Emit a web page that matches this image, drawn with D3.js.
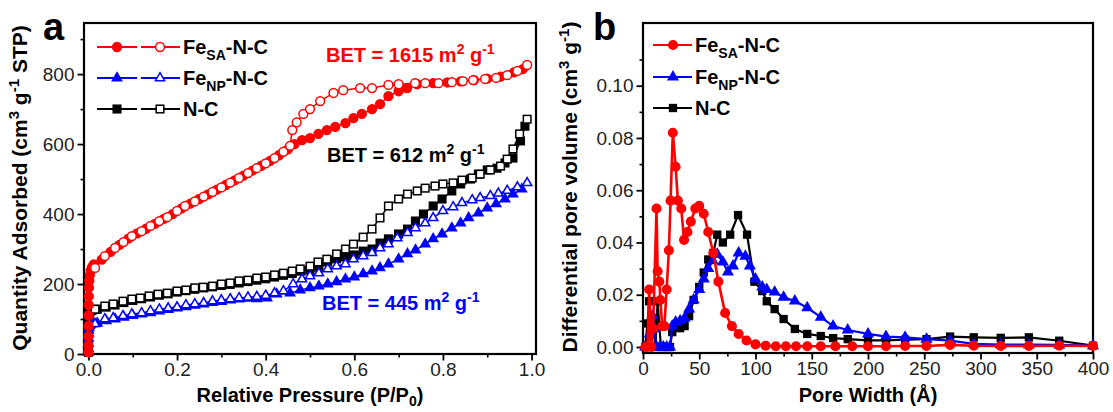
<!DOCTYPE html>
<html><head><meta charset="utf-8">
<script src="https://cdnjs.cloudflare.com/ajax/libs/d3/7.8.5/d3.min.js"></script>
<style>body{margin:0;background:#fff;} text{font-family:Arial,"Liberation Sans",sans-serif;}</style>
</head><body>
<script>
// ---------- Panel a data: N2 isotherms ----------
const lowP = [0.00002,0.00005,0.0001,0.0002,0.0003,0.0005,0.0008,0.0012,0.002,0.003,0.005,0.008,0.012];
const saAdsP = lowP.concat([0.03,0.05,0.07,0.09,0.11,0.13,0.15,0.17,0.19,0.21,0.23,0.25,0.27,0.29,0.31,0.33,0.35,0.37,0.39,0.41,0.43,0.45,0.465,0.482,0.50,0.519,0.538,0.557,0.58,0.598,0.617,0.64,0.658,0.677,0.70,0.719,0.742,0.778,0.81,0.84,0.87,0.90,0.93,0.96,0.98]);
const saAdsV = [5,25,50,80,110,140,165,190,210,225,238,248,256,270,292,312,330,345,358,372,386,400,416,430,443,456,470,483,496,510,524,538,552,568,585,600,611,617,629,640,649,660,674,686,700,714,737,751,760,771,774,776,779,783,787,793,805,814];
const saDesP = [0.015,0.037,0.06,0.079,0.098,0.12,0.14,0.16,0.178,0.2,0.218,0.24,0.26,0.28,0.3,0.32,0.34,0.36,0.38,0.40,0.42,0.44,0.455,0.46,0.47,0.485,0.50,0.523,0.553,0.575,0.613,0.64,0.677,0.70,0.737,0.76,0.79,0.82,0.845,0.868,0.895,0.92,0.945,0.968,0.99];
const saDesV = [246,280,303,320,337,351,366,380,391,409,423,436,450,463,476,490,503,517,531,545,560,578,595,640,662,686,700,723,746,754,760,760,769,771,774,774,774,777,780,783,786,789,797,809,826];

const npAdsP = lowP.concat([0.02,0.04,0.06,0.08,0.10,0.12,0.14,0.16,0.18,0.20,0.22,0.24,0.26,0.28,0.30,0.32,0.34,0.36,0.38,0.403,0.425,0.455,0.478,0.50,0.52,0.54,0.56,0.58,0.60,0.62,0.64,0.658,0.677,0.70,0.72,0.738,0.76,0.778,0.798,0.82,0.84,0.858,0.88,0.90,0.92,0.94,0.958,0.978]);
const npAdsV = [5,15,30,45,58,68,74,78,81,83,85,86,87,88,95,100,105,110,114,118,123,127,131,135,139,143,147,150,154,157,159,158,160,171,174,183,189,194,200,206,214,220,229,237,246,257,271,286,297,314,329,343,360,374,389,403,417,429,443,457,471];
const npDesP = [0.015,0.037,0.056,0.078,0.098,0.12,0.14,0.16,0.18,0.2,0.22,0.24,0.26,0.28,0.30,0.32,0.34,0.36,0.38,0.40,0.42,0.44,0.462,0.482,0.50,0.52,0.54,0.56,0.58,0.598,0.62,0.64,0.658,0.677,0.697,0.72,0.738,0.76,0.778,0.80,0.823,0.843,0.866,0.884,0.907,0.925,0.945,0.968,0.99];
const npDesV = [86,100,103,109,114,117,123,128,131,134,140,143,146,151,154,157,160,162,164,167,174,180,200,214,223,231,243,251,257,271,280,289,303,314,331,346,360,374,389,409,420,432,440,446,452,459,467,477,489];

const ncAdsP = lowP.concat([0.02,0.04,0.06,0.08,0.10,0.12,0.14,0.16,0.18,0.20,0.22,0.24,0.26,0.28,0.30,0.32,0.34,0.36,0.38,0.40,0.42,0.44,0.46,0.48,0.50,0.52,0.54,0.56,0.58,0.60,0.62,0.64,0.658,0.677,0.70,0.72,0.738,0.756,0.778,0.798,0.82,0.84,0.862,0.88,0.90,0.922,0.94,0.958,0.975,0.985]);
const ncAdsV = [5,20,40,60,80,95,105,112,117,120,123,125,127,128,134,140,147,153,158,163,168,172,177,181,185,189,192,196,199,203,207,211,215,220,225,230,237,240,248,263,272,277,283,294,300,317,329,343,357,380,400,423,443,466,486,500,514,526,531,546,560,609,651];
const ncDesP = [0.015,0.037,0.056,0.078,0.098,0.117,0.137,0.157,0.178,0.2,0.22,0.24,0.259,0.28,0.3,0.32,0.34,0.36,0.38,0.40,0.42,0.44,0.46,0.478,0.5,0.518,0.538,0.56,0.58,0.598,0.62,0.64,0.658,0.677,0.70,0.72,0.742,0.76,0.782,0.80,0.823,0.843,0.866,0.884,0.907,0.93,0.945,0.958,0.973,0.99];
const ncDesV = [128,137,143,151,157,160,166,171,174,180,183,189,191,194,200,203,209,211,217,220,226,231,237,243,251,263,271,286,300,314,334,357,389,423,443,457,466,474,480,486,489,497,503,514,526,537,557,586,629,671];

const aXTicks = [0,0.2,0.4,0.6,0.8,1.0];
const aYTicks = [0,200,400,600,800];

// ---------- Panel b data: pore size distribution ----------
const saW = [2,4,5.5,7.5,9,12,13,14.5,15.5,17,19,21,23,24.5,26.5,29,31,34,36.5,39.5,42.5,46.5,50,54,58,62.5,67,73,79,85,92,100,109,118,127,136,146,158,171,186,200,216,233,252,273,294,318,343,370,400];
const saPV = [0,0,0.022,0,0.007,0.053,0.029,0.025,0.018,0.008,0.008,0.022,0.037,0.056,0.082,0.069,0.056,0.053,0.041,0.044,0.048,0.053,0.054,0.051,0.044,0.036,0.025,0.013,0.008,0.005,0.0025,0.001,0.0005,0.0003,0.0003,0.0003,0.0003,0.0003,0.0003,0.0003,0.0003,0.0003,0.0004,0.0004,0.0008,0.0005,0.0004,0.0004,0.0005,0.0004];
const npW = [2,4,6,8.5,10,12,15,18,21,24,26,29,33,37,41,45,50,54,58,62,66,71,75.5,80,85,91,95,100,106,110,117,125,135,146,158,169,182,200,216,233,252,273,294,318,343,370,400];
const npPV = [0,0,0.005,0.012,0.007,0,0,0,0,0,0.008,0.0095,0.01,0.011,0.0145,0.018,0.022,0.026,0.030,0.033,0.0355,0.0325,0.0287,0.031,0.036,0.0347,0.031,0.026,0.023,0.022,0.021,0.019,0.0176,0.015,0.0114,0.008,0.0065,0.005,0.004,0.0037,0.003,0.0024,0.0012,0.0009,0.0009,0.0008,0.0005];
const ncW = [2,4,5.5,7,9,11,13,14.5,16,19,22,24,26,29,33,37,41,45,50,54,58,62.5,66,71,77.5,84.5,92.5,99,106,110,117,125,135,146,158,169,182,200,216,233,252,273,294,318,343,370,400];
const ncPV = [0,0.009,0.0175,0.005,0.010,0,0.0175,0.008,0,0,0,0,0.0057,0.0076,0.0072,0.008,0.0118,0.018,0.023,0.0285,0.0335,0.036,0.043,0.040,0.043,0.0505,0.043,0.025,0.0214,0.0175,0.0145,0.0107,0.0069,0.005,0.0042,0.0034,0.003,0.0025,0.0025,0.0028,0.003,0.004,0.0037,0.0035,0.0037,0.0024,0.0005];

const bXTicks = [0,50,100,150,200,250,300,350,400];
const bYTicks = [0,0.02,0.04,0.06,0.08,0.10];

const RED = "#ff0000", BLUE = "#0000ff", BLACK = "#000000";
const TICK_FS = 19, LEG_FS = 20, TITLE_FS = 20;

const svg = d3.select("body").append("svg").attr("width",1113).attr("height",412);

function zip(xs, ys){ return xs.map((x,i)=>({x:x, y:ys[i]})); }

function drawAxes(g, x, y, xMajor, xMinor, yMajor, yMinor, xFmt, yFmt){
  const [x0,x1] = x.range(), [y0,y1] = y.range();
  g.append("g").attr("transform",`translate(0,${y0})`)
    .call(d3.axisBottom(x).tickValues(xMinor).tickSize(3.5).tickFormat("").tickSizeOuter(0))
    .call(s=>s.select(".domain").remove()).selectAll("line").attr("stroke-width",1.6);
  g.append("g").attr("transform",`translate(${x0},0)`)
    .call(d3.axisLeft(y).tickValues(yMinor).tickSize(3.5).tickFormat("").tickSizeOuter(0))
    .call(s=>s.select(".domain").remove()).selectAll("line").attr("stroke-width",1.6);
  const xa = g.append("g").attr("transform",`translate(0,${y0})`)
    .call(d3.axisBottom(x).tickValues(xMajor).tickSize(6.5).tickPadding(2).tickFormat(xFmt).tickSizeOuter(0));
  xa.select(".domain").remove();
  xa.selectAll("line").attr("stroke-width",1.8);
  xa.selectAll("text").attr("font-size",TICK_FS).attr("fill","#222").attr("font-family","Arial, 'Liberation Sans', sans-serif");
  const ya = g.append("g").attr("transform",`translate(${x0},0)`)
    .call(d3.axisLeft(y).tickValues(yMajor).tickSize(6.5).tickPadding(3).tickFormat(yFmt).tickSizeOuter(0));
  ya.select(".domain").remove();
  ya.selectAll("line").attr("stroke-width",1.8);
  ya.selectAll("text").attr("font-size",TICK_FS).attr("fill","#222").attr("font-family","Arial, 'Liberation Sans', sans-serif");
  g.append("rect").attr("x",x0).attr("y",y1).attr("width",x1-x0).attr("height",y0-y1)
    .attr("fill","none").attr("stroke","#000").attr("stroke-width",2.2);
}

function marker(sel, shape, color, filled, size){
  if(shape==="circle"){
    sel.append("circle").attr("r",size).attr("fill",filled?color:"#fff").attr("stroke",color).attr("stroke-width",1.5);
  } else if(shape==="square"){
    sel.append("rect").attr("x",-size).attr("y",-size).attr("width",2*size).attr("height",2*size)
      .attr("fill",filled?color:"#fff").attr("stroke",color).attr("stroke-width",1.5);
  } else {
    sel.append("path").attr("d",d3.symbol(d3.symbolTriangle, size*size*3.2)())
      .attr("fill",filled?color:"#fff").attr("stroke",color).attr("stroke-width",1.5);
  }
}

function series(g, x, y, data, color, shape, filled, size, lw){
  const line = d3.line().x(d=>x(d.x)).y(d=>y(d.y));
  g.append("path").datum(data).attr("d",line).attr("fill","none").attr("stroke",color).attr("stroke-width",lw);
  g.selectAll(null).data(data).enter().append("g")
    .attr("transform",d=>`translate(${x(d.x)},${y(d.y)})`)
    .each(function(){ marker(d3.select(this), shape, color, filled, size); });
}

function richText(g, x, y, parts, opts){
  const t = g.append("text").attr("x",x).attr("y",y).attr("font-size",opts.size).attr("font-weight","bold")
    .attr("fill",opts.fill||"#000");
  if(opts.anchor) t.attr("text-anchor",opts.anchor);
  if(opts.transform) t.attr("transform",opts.transform);
  let shift = 0;
  const subK = opts.subK || 0.3;
  parts.forEach(p=>{
    const ts = t.append("tspan").text(p.t);
    let target = 0, fs = opts.size;
    if(p.sup){ target = -Math.round(opts.size*0.38); fs = Math.round(opts.size*0.72); }
    if(p.sub){ target = Math.round(opts.size*subK); fs = Math.round(opts.size*0.72); }
    ts.attr("font-size",fs);
    if(target!==shift){ ts.attr("dy",target-shift); shift = target; }
  });
  return t;
}

// ===== Panel a =====
const ga = svg.append("g");
const xa = d3.scaleLinear().domain([-0.01,1.01]).range([84,536]);
const ya = d3.scaleLinear().domain([0,946]).range([354,23]);
drawAxes(ga, xa, ya, aXTicks, d3.range(0.1,1.0,0.2), aYTicks, [100,300,500,700,900], d3.format(".1f"), d3.format("d"));

const plotA = ga.append("g");
series(plotA, xa, ya, zip(ncAdsP,ncAdsV), BLACK, "square", true, 3.8, 1.5);
series(plotA, xa, ya, zip(ncDesP,ncDesV), BLACK, "square", false, 3.8, 1.5);
series(plotA, xa, ya, zip(npAdsP,npAdsV), BLUE, "triangle", true, 3.4, 1.5);
series(plotA, xa, ya, zip(npDesP,npDesV), BLUE, "triangle", false, 3.4, 1.5);
series(plotA, xa, ya, zip(saAdsP,saAdsV), RED, "circle", true, 4.4, 1.5);
series(plotA, xa, ya, zip(saDesP,saDesV), RED, "circle", false, 4.4, 1.5);

const legA = [
  {c:RED, s:"circle", label:[{t:"Fe"},{t:"SA",sub:true},{t:"-N-C"}], y:47, sz:4.4},
  {c:BLUE, s:"triangle", label:[{t:"Fe"},{t:"NP",sub:true},{t:"-N-C"}], y:78, sz:3.4},
  {c:BLACK, s:"square", label:[{t:"N-C"}], y:109, sz:3.8}
];
legA.forEach(L=>{
  ga.append("line").attr("x1",97).attr("x2",137).attr("y1",L.y).attr("y2",L.y).attr("stroke",L.c).attr("stroke-width",2.2);
  ga.append("line").attr("x1",141).attr("x2",180).attr("y1",L.y).attr("y2",L.y).attr("stroke",L.c).attr("stroke-width",2.2);
  marker(ga.append("g").attr("transform",`translate(117,${L.y})`), L.s, L.c, true, L.sz);
  marker(ga.append("g").attr("transform",`translate(160,${L.y})`), L.s, L.c, false, L.sz);
  richText(ga, 183, L.y+7, L.label, {size:LEG_FS});
});

richText(ga, 326, 62, [{t:"BET = 1615 m"},{t:"2",sup:true},{t:" g"},{t:"-1",sup:true}], {size:LEG_FS, fill:RED});
richText(ga, 327, 162, [{t:"BET = 612 m"},{t:"2",sup:true},{t:" g"},{t:"-1",sup:true}], {size:LEG_FS, fill:BLACK});
richText(ga, 322, 310, [{t:"BET = 445 m"},{t:"2",sup:true},{t:" g"},{t:"-1",sup:true}], {size:LEG_FS, fill:BLUE});

richText(ga, 310, 402, [{t:"Relative Pressure (P/P"},{t:"0",sub:true},{t:")"}], {size:TITLE_FS, anchor:"middle", subK:0.2});
richText(ga, 0, 0, [{t:"Quantity Adsorbed (cm"},{t:"3",sup:true},{t:" g"},{t:"-1",sup:true},{t:" STP)"}], {size:21, anchor:"middle", transform:"translate(27,188) rotate(-90)"});
ga.append("text").attr("x",43).attr("y",40).attr("font-size",38).attr("font-weight","bold").text("a");

// ===== Panel b =====
const gb = svg.append("g");
const xb = d3.scaleLinear().domain([0,400]).range([643,1093]);
const yb = d3.scaleLinear().domain([-0.0023,0.124]).range([353,23]);
drawAxes(gb, xb, yb, bXTicks, d3.range(25,400,50), bYTicks, [0.01,0.03,0.05,0.07,0.09,0.11], d3.format("d"), d3.format(".2f"));

const plotB = gb.append("g");
series(plotB, xb, yb, zip(ncW,ncPV), BLACK, "square", true, 3.4, 2.2);
series(plotB, xb, yb, zip(npW,npPV), BLUE, "triangle", true, 3.5, 2.2);
series(plotB, xb, yb, zip(saW,saPV), RED, "circle", true, 4.3, 2.6);

const legB = [
  {c:RED, s:"circle", label:[{t:"Fe"},{t:"SA",sub:true},{t:"-N-C"}], y:45, sz:4.3},
  {c:BLUE, s:"triangle", label:[{t:"Fe"},{t:"NP",sub:true},{t:"-N-C"}], y:77, sz:3.5},
  {c:BLACK, s:"square", label:[{t:"N-C"}], y:108, sz:3.4}
];
legB.forEach(L=>{
  gb.append("line").attr("x1",653).attr("x2",692).attr("y1",L.y).attr("y2",L.y).attr("stroke",L.c).attr("stroke-width",2.2);
  marker(gb.append("g").attr("transform",`translate(673,${L.y})`), L.s, L.c, true, L.sz);
  richText(gb, 695, L.y+7, L.label, {size:LEG_FS});
});

richText(gb, 868, 402, [{t:"Pore Width (Å)"}], {size:TITLE_FS, anchor:"middle"});
richText(gb, 0, 0, [{t:"Differential pore volume (cm"},{t:"3",sup:true},{t:" g"},{t:"-1",sup:true},{t:")"}], {size:21, anchor:"middle", transform:"translate(577,187) rotate(-90)"});
gb.append("text").attr("x",593).attr("y",40).attr("font-size",38).attr("font-weight","bold").text("b");
</script>
</body></html>
